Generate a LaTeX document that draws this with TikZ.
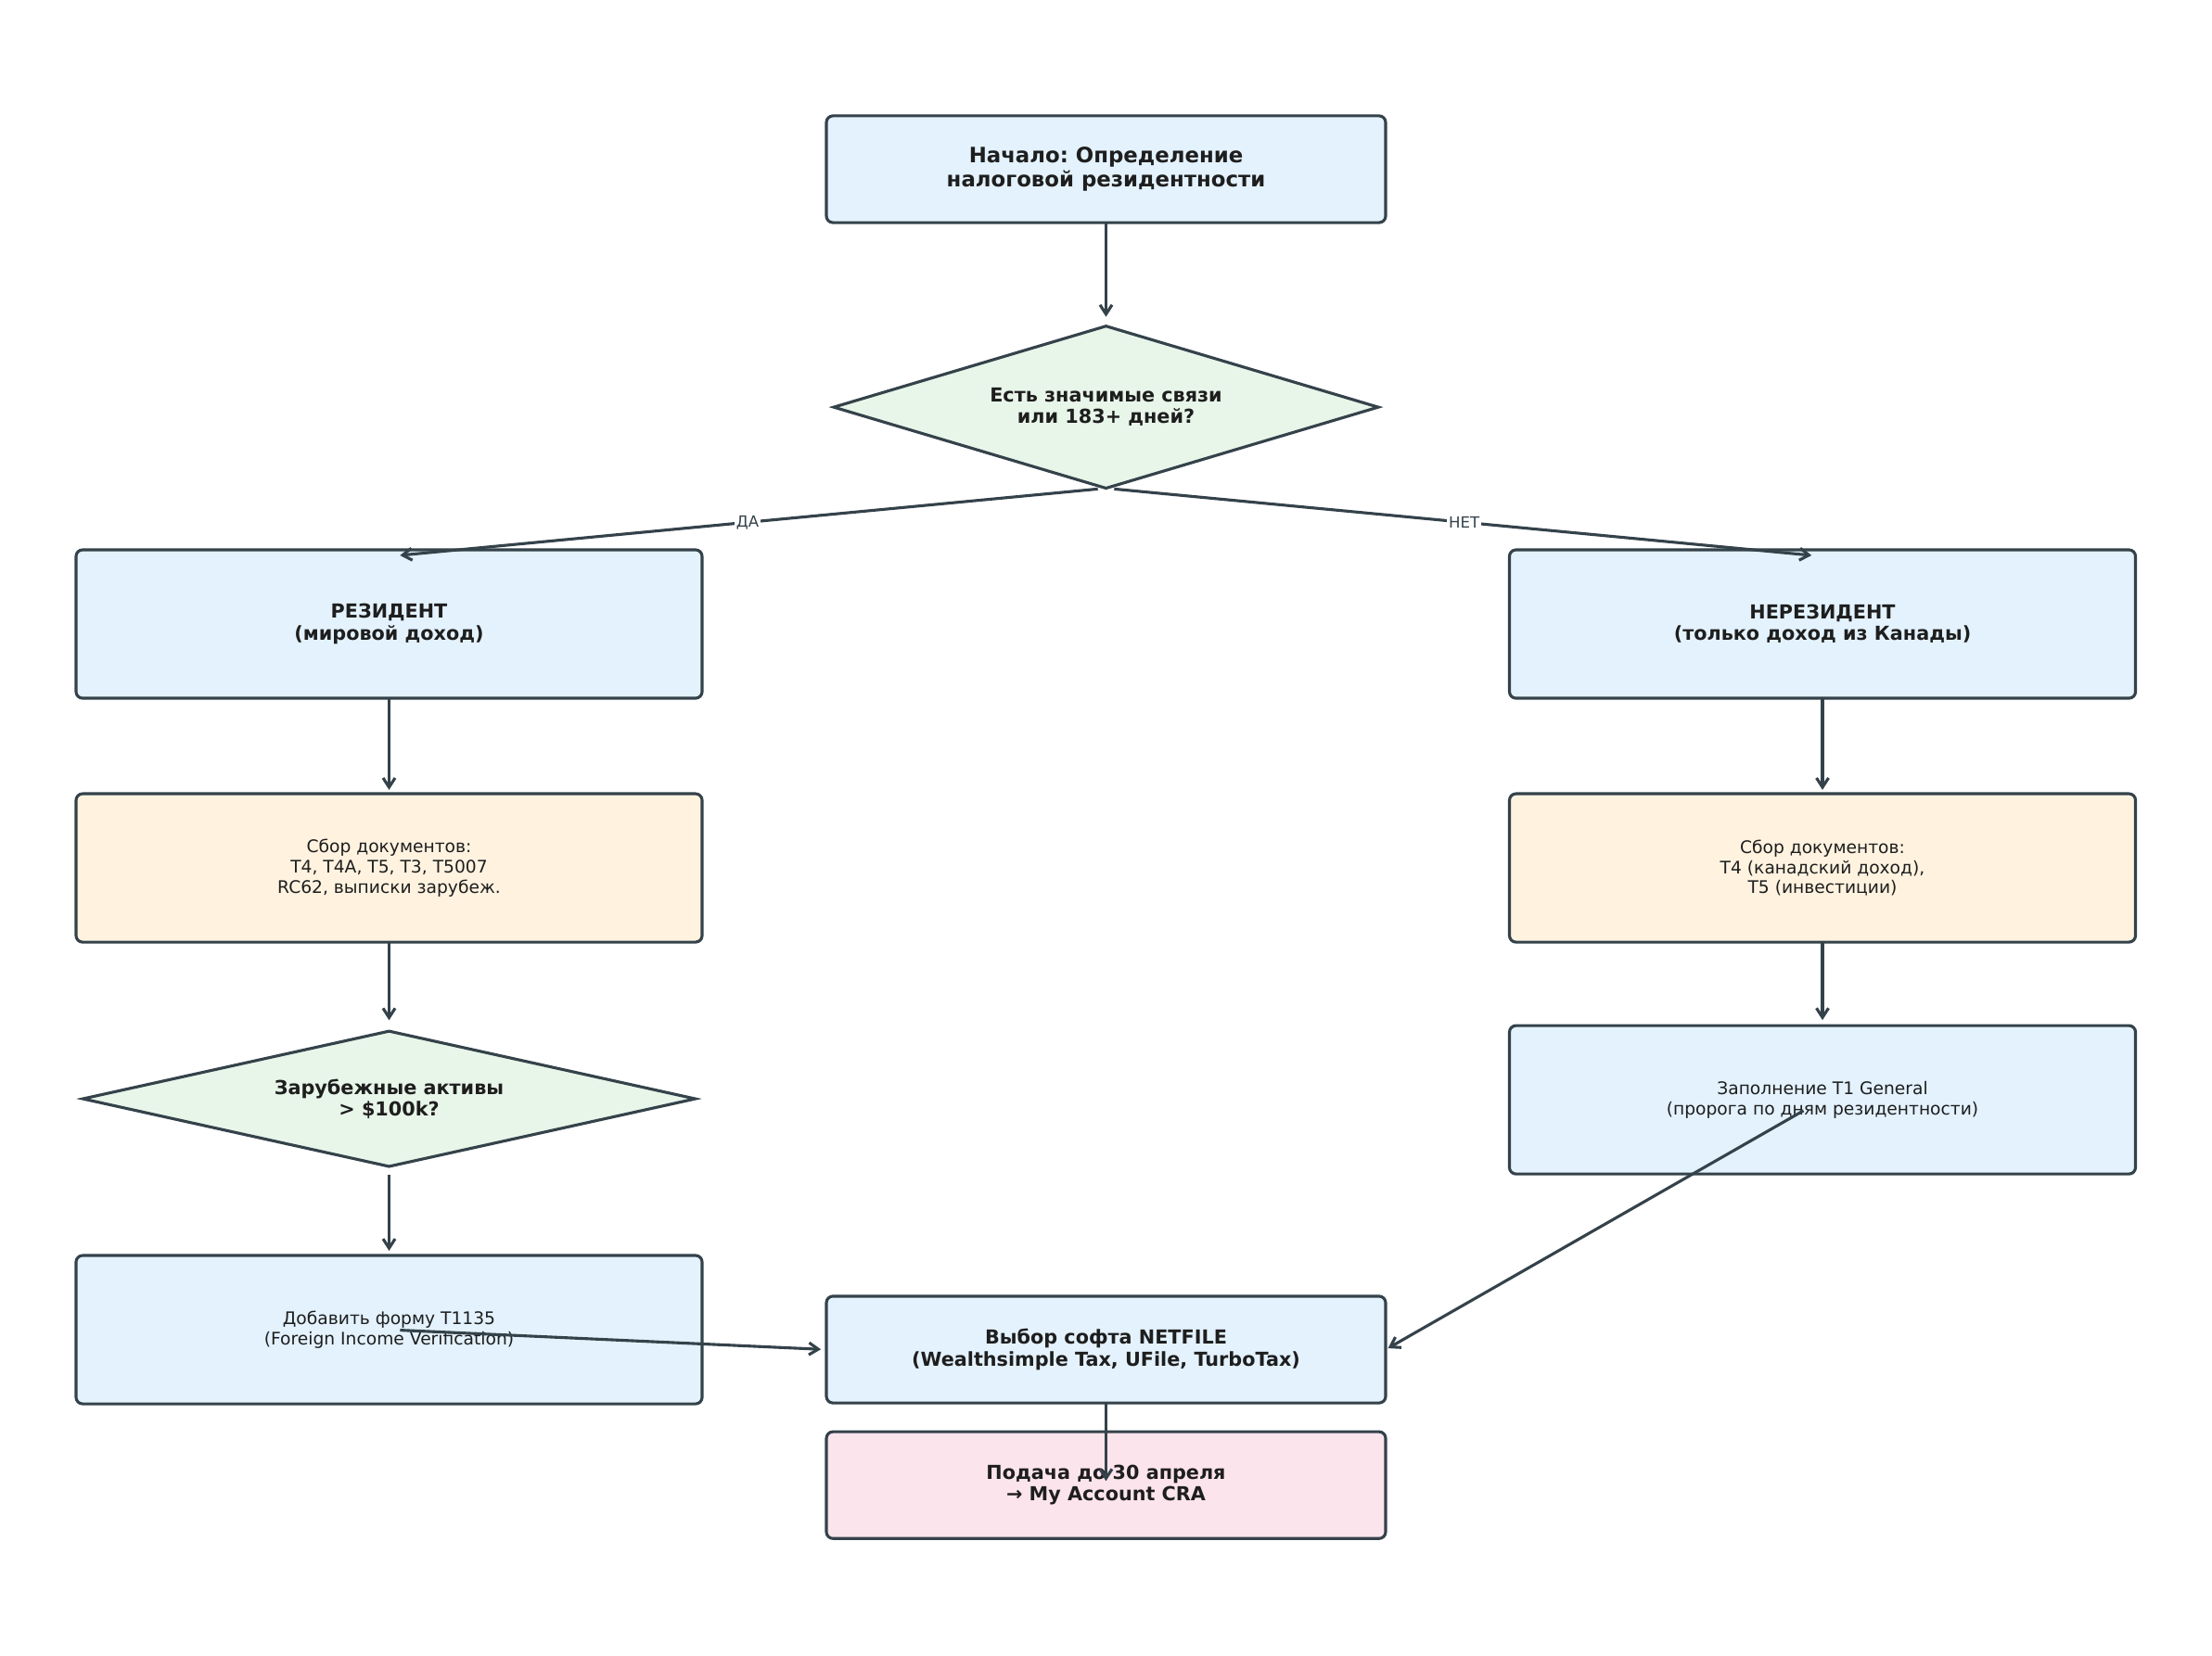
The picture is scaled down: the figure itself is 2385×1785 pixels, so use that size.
\documentclass[tikz,border=0pt]{standalone}
\usepackage{fontspec}
\setmainfont{DejaVu Sans}
\frenchspacing
\usetikzlibrary{arrows.meta,positioning,shapes.geometric}
\definecolor{fcline}{HTML}{34424A}
\definecolor{fcblue}{HTML}{E3F2FD}
\definecolor{fcgreen}{HTML}{E8F5E9}
\definecolor{fcorange}{HTML}{FFF3E0}
\definecolor{fcpink}{HTML}{FCE4EC}
\definecolor{fctext}{HTML}{1E1E1E}

\begin{document}
\begin{tikzpicture}[x=0.16933mm,y=-0.16933mm,
  box/.style={draw=fcline,line width=1.5pt,rounded corners=1.2mm,outer sep=0pt,inner sep=0pt,
    align=center,text=fctext,minimum width=114.3mm,minimum height=27.1mm},
  midbox/.style={box,minimum width=102.1mm,minimum height=19.5mm},
  dec/.style={diamond,draw=fcline,line width=1.5pt,fill=fcgreen,outer sep=0pt,inner sep=0pt,
    align=center,text=fctext,font=\fontsize{10}{11.2}\selectfont\bfseries},
  bold/.style={font=\fontsize{10}{11.2}\selectfont\bfseries},
  plain/.style={font=\fontsize{9}{10.5}\selectfont},
  arr/.style={-{Straight Barb[length=1.7mm,width=2.2mm]},line width=1.5pt,fcline},
  yn/.style={font=\fontsize{8}{9}\selectfont,text=fcline,fill=white,inner sep=1pt}]
  \useasboundingbox (0,0) rectangle (2385,1785);
  \node[midbox,fill=fcblue,font=\fontsize{11}{12.6}\selectfont\bfseries] (start) at (1192.5,182.5)
    {Начало: Определение\\налоговой резидентности};
  \node[dec,shape aspect=3.35,minimum width=99.4mm,minimum height=29.6mm,below=18.9mm of start] (ties)
    {Есть значимые связи\\или 183+ дней?};
  % resident branch
  \node[box,fill=fcblue,bold] (res) at (419.5,673) {РЕЗИДЕНТ\\(мировой доход)};
  \node[box,fill=fcorange,plain,below=17.44mm of res] (docres)
    {Сбор документов:\\T4, T4A, T5, T3, T5007\\RC62, выписки зарубеж.};
  \node[dec,shape aspect=4.5,minimum width=111.8mm,minimum height=24.7mm,below=16.26mm of docres] (assets)
    {Зарубежные активы\\> \$100k?};
  \node[box,fill=fcblue,plain,below=16.26mm of assets] (tform)
    {Добавить форму T1135\\(Foreign Income Verification)};
  % non-resident branch
  \node[box,fill=fcblue,bold] (nonres) at (1965,673) {НЕРЕЗИДЕНТ\\(только доход из Канады)};
  \node[box,fill=fcorange,plain,below=17.44mm of nonres] (docnon)
    {Сбор документов:\\T4 (канадский доход),\\T5 (инвестиции)};
  \node[box,fill=fcblue,plain,below=15.24mm of docnon] (tgen)
    {Заполнение T1 General\\(пророга по дням резидентности)};
  % filing
  \node[midbox,fill=fcblue,bold] (soft) at (1192.5,1455.5)
    {Выбор софта NETFILE\\(Wealthsimple Tax, UFile, TurboTax)};
  \node[midbox,fill=fcpink,bold,below=5.25mm of soft] (send)
    {Подача до 30 апреля\\→ My Account CRA};
  \draw[arr,shorten >=1.7mm] (start.south) -- (ties.north);
  \draw[arr,shorten <=1.5mm,shorten >=2mm] (ties.south) -- ([yshift=-1.2mm]res.north) node[yn,midway] {ДА};
  \draw[arr,shorten <=1.5mm,shorten >=2mm] (ties.south) -- ([yshift=-1.2mm]nonres.north) node[yn,midway] {НЕТ};
  \draw[arr,shorten >=0.7mm] (res.south) -- (docres.north);
  \draw[arr,shorten >=2mm] (docres.south) -- (assets.north);
  \draw[arr,shorten <=1.5mm,shorten >=0.85mm] (assets.south) -- (tform.north);
  \draw[arr,shorten >=0.7mm] (nonres.south) -- (docnon.north);
  \draw[arr,shorten >=1mm] (docnon.south) -- (tgen.north);
  \draw[arr,shorten <=2mm,shorten >=1mm] (tform.center) -- (soft.west);
  \draw[arr,shorten <=4mm,shorten >=0.5mm] (tgen.center) -- (soft.east);
  \draw[arr,shorten >=0.76mm] (soft.south) -- (send.center);
\end{tikzpicture}
\end{document}
